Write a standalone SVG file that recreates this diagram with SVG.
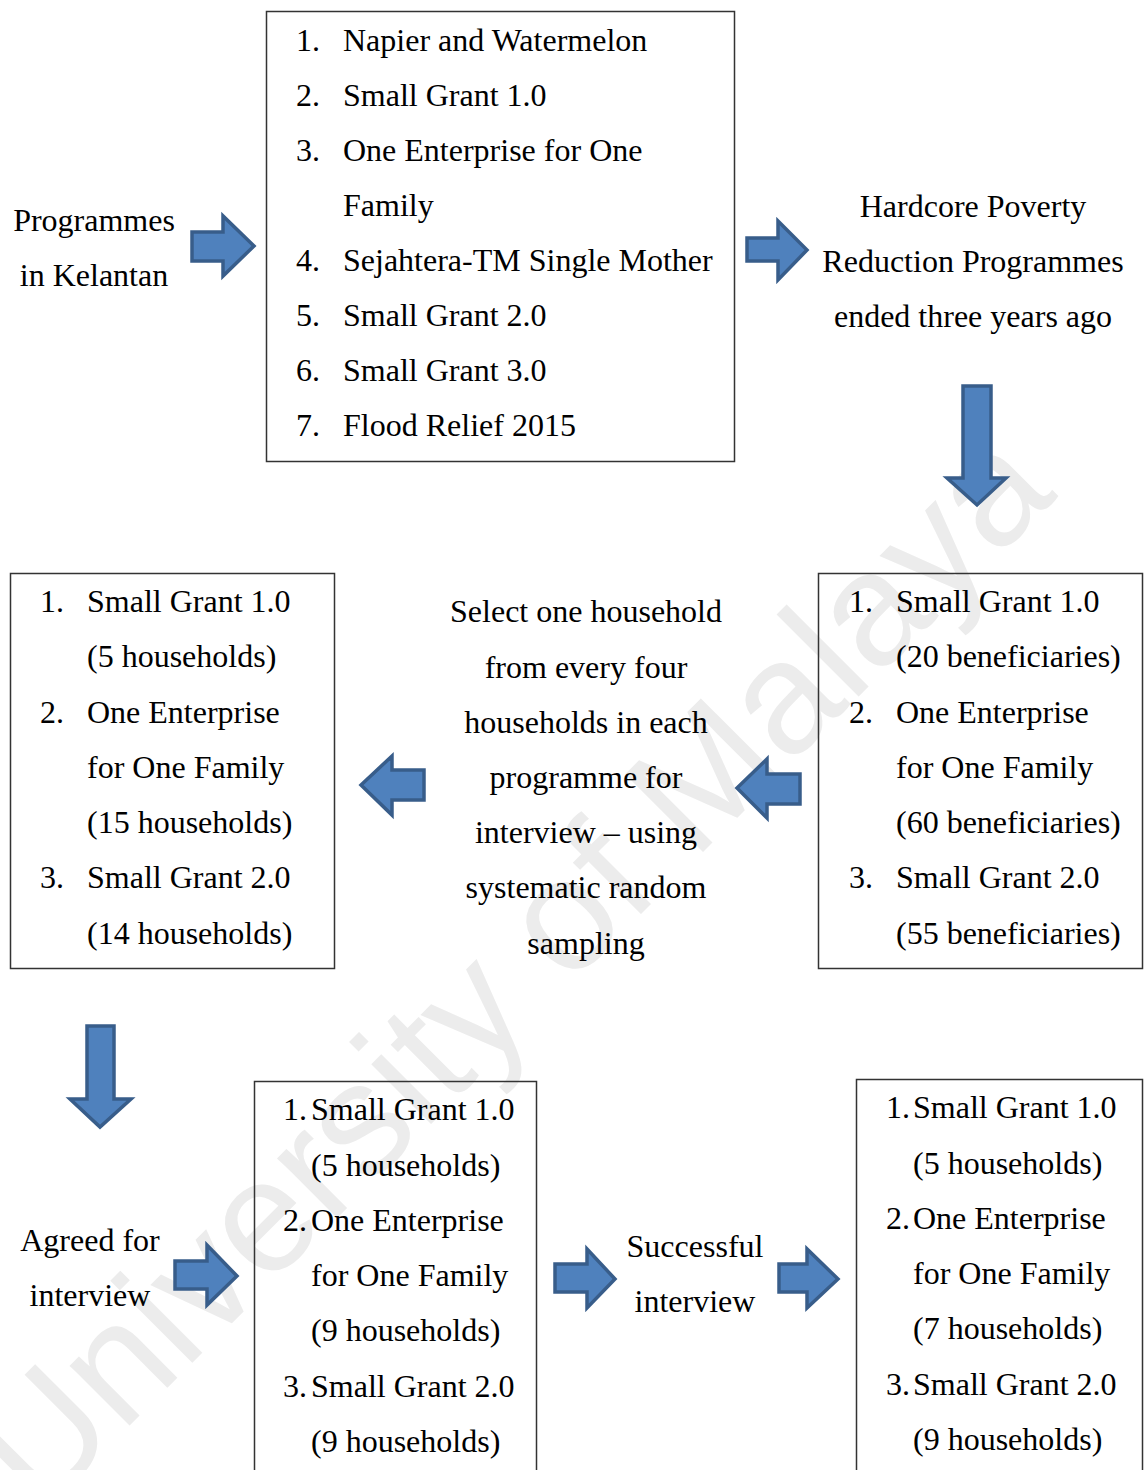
<svg xmlns="http://www.w3.org/2000/svg" width="1144" height="1470" viewBox="0 0 1144 1470">
<style>
.t{font-family:"Liberation Serif","Times New Roman",serif;font-size:32px;fill:#000}
.c{text-anchor:middle}
.box{fill:none;stroke:#333;stroke-width:1.5}
.arr{fill:#4F81BD;stroke:#385D8A;stroke-width:3.5;stroke-linejoin:miter}
.wm{font-family:"Liberation Sans",Arial,sans-serif;font-size:160px;fill:#ececec}
</style>
<rect width="1144" height="1470" fill="#fff"/>
<text class="wm" transform="translate(40,1515) rotate(-45)">University of Malaya</text>

<g id="connectors">
<polygon class="arr" points="192,232 223,232 223,216 254,246 223,276 223,261 192,261"/>
<polygon class="arr" points="747,238 778,238 778,221 807,250 778,280 778,261 747,261"/>
<polygon class="arr" points="963,386 991,386 991,478 1006,478 977,505 947,478 963,478"/>
<polygon class="arr" points="737,788 767,759 767,774 800,774 800,804 767,804 767,818"/>
<polygon class="arr" points="361,785 392,756 392,770 424,770 424,800 392,800 392,815"/>
<polygon class="arr" points="87,1026 114,1026 114,1099 131,1099 100,1127 70,1099 87,1099"/>
<polygon class="arr" points="175,1261 207,1261 207,1245 237,1276 207,1305 207,1289 175,1289"/>
<polygon class="arr" points="555,1264 587,1264 587,1249 615,1279 587,1308 587,1292 555,1292"/>
<polygon class="arr" points="779,1264 807,1264 807,1249 838,1279 807,1308 807,1292 779,1292"/>
</g>

<g id="programmes">
<text class="t c" x="94" y="231">Programmes</text>
<text class="t c" x="94" y="286">in Kelantan</text>
</g>

<g id="programme-list">
<rect class="box" x="266.5" y="11.5" width="468" height="450"/>
<text class="t" x="296" y="51">1.</text><text class="t" x="343" y="51">Napier and Watermelon</text>
<text class="t" x="296" y="106">2.</text><text class="t" x="343" y="106">Small Grant 1.0</text>
<text class="t" x="296" y="161">3.</text><text class="t" x="343" y="161">One Enterprise for One</text>
<text class="t" x="343" y="216">Family</text>
<text class="t" x="296" y="271">4.</text><text class="t" x="343" y="271">Sejahtera-TM Single Mother</text>
<text class="t" x="296" y="326">5.</text><text class="t" x="343" y="326">Small Grant 2.0</text>
<text class="t" x="296" y="381">6.</text><text class="t" x="343" y="381">Small Grant 3.0</text>
<text class="t" x="296" y="436">7.</text><text class="t" x="343" y="436">Flood Relief 2015</text>
</g>

<g id="hardcore">
<text class="t c" x="973" y="217">Hardcore Poverty</text>
<text class="t c" x="973" y="272">Reduction Programmes</text>
<text class="t c" x="973" y="327">ended three years ago</text>
</g>

<g id="beneficiaries">
<rect class="box" x="818.5" y="573.5" width="324" height="395"/>
<text class="t" x="849" y="612">1.</text><text class="t" x="896" y="612">Small Grant 1.0</text>
<text class="t" x="896" y="667">(20 beneficiaries)</text>
<text class="t" x="849" y="723">2.</text><text class="t" x="896" y="723">One Enterprise</text>
<text class="t" x="896" y="778">for One Family</text>
<text class="t" x="896" y="833">(60 beneficiaries)</text>
<text class="t" x="849" y="888">3.</text><text class="t" x="896" y="888">Small Grant 2.0</text>
<text class="t" x="896" y="944">(55 beneficiaries)</text>
</g>

<g id="selection">
<text class="t c" x="586" y="622">Select one household</text>
<text class="t c" x="586" y="678">from every four</text>
<text class="t c" x="586" y="733">households in each</text>
<text class="t c" x="586" y="788">programme for</text>
<text class="t c" x="586" y="843">interview – using</text>
<text class="t c" x="586" y="898">systematic random</text>
<text class="t c" x="586" y="954">sampling</text>
</g>

<g id="sampled">
<rect class="box" x="10.5" y="573.5" width="324" height="395"/>
<text class="t" x="40" y="612">1.</text><text class="t" x="87" y="612">Small Grant 1.0</text>
<text class="t" x="87" y="667">(5 households)</text>
<text class="t" x="40" y="723">2.</text><text class="t" x="87" y="723">One Enterprise</text>
<text class="t" x="87" y="778">for One Family</text>
<text class="t" x="87" y="833">(15 households)</text>
<text class="t" x="40" y="888">3.</text><text class="t" x="87" y="888">Small Grant 2.0</text>
<text class="t" x="87" y="944">(14 households)</text>
</g>

<g id="agreed">
<text class="t c" x="90" y="1251">Agreed for</text>
<text class="t c" x="90" y="1306">interview</text>
</g>

<g id="agreed-list">
<rect class="box" x="254.5" y="1081.5" width="282" height="400"/>
<text class="t" x="283" y="1120">1.</text><text class="t" x="311" y="1120">Small Grant 1.0</text>
<text class="t" x="311" y="1176">(5 households)</text>
<text class="t" x="283" y="1231">2.</text><text class="t" x="311" y="1231">One Enterprise</text>
<text class="t" x="311" y="1286">for One Family</text>
<text class="t" x="311" y="1341">(9 households)</text>
<text class="t" x="283" y="1397">3.</text><text class="t" x="311" y="1397">Small Grant 2.0</text>
<text class="t" x="311" y="1452">(9 households)</text>
</g>

<g id="successful">
<text class="t c" x="695" y="1257">Successful</text>
<text class="t c" x="695" y="1312">interview</text>
</g>

<g id="successful-list">
<rect class="box" x="856.5" y="1079.5" width="286" height="400"/>
<text class="t" x="886" y="1118">1.</text><text class="t" x="913" y="1118">Small Grant 1.0</text>
<text class="t" x="913" y="1174">(5 households)</text>
<text class="t" x="886" y="1229">2.</text><text class="t" x="913" y="1229">One Enterprise</text>
<text class="t" x="913" y="1284">for One Family</text>
<text class="t" x="913" y="1339">(7 households)</text>
<text class="t" x="886" y="1395">3.</text><text class="t" x="913" y="1395">Small Grant 2.0</text>
<text class="t" x="913" y="1450">(9 households)</text>
</g>
</svg>
